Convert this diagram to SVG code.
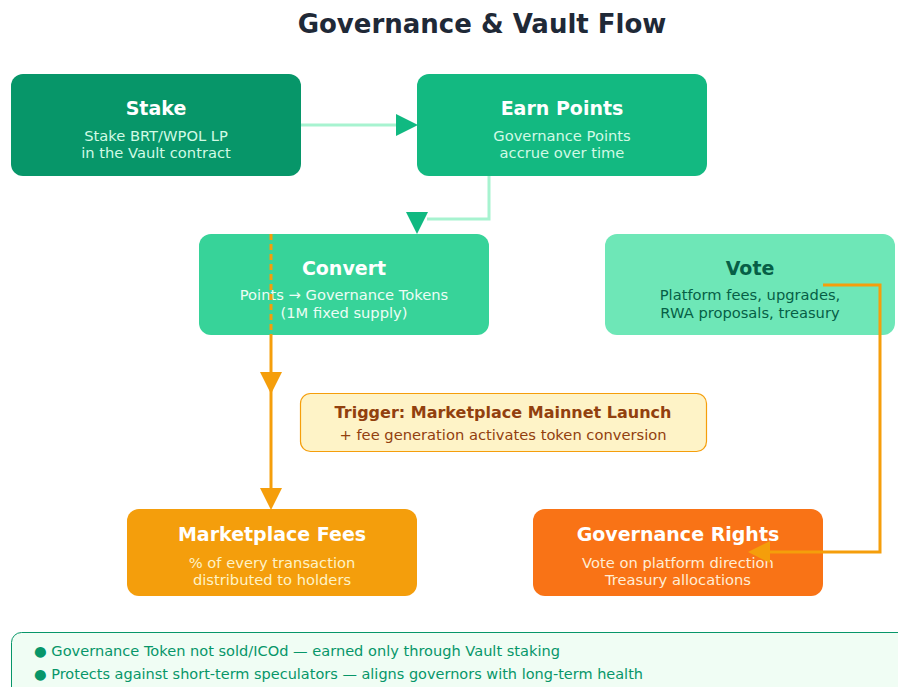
<svg xmlns="http://www.w3.org/2000/svg" width="898" height="687" viewBox="0 0 898 687">
<style>
text{font-family:"DejaVu Sans","Liberation Sans",sans-serif;text-anchor:middle}
.t{font-size:19px;font-weight:bold;fill:#ffffff}
.s{font-size:14.7px}
.g{stroke:#a7f3d0;stroke-width:3;fill:none}
.o{stroke:#f59e0b;stroke-width:3;fill:none}
</style>
<rect width="898" height="687" fill="#ffffff"/>
<text x="482" y="33" style="font-size:26px;font-weight:bold;fill:#1f2937">Governance &amp; Vault Flow</text>

<g id="stake">
  <rect x="11" y="74" width="290" height="102" rx="12" fill="#079669"/>
  <text class="t" x="156" y="115">Stake</text>
  <text class="s" x="156" y="141" fill="#d1fae5">Stake BRT/WPOL LP</text>
  <text class="s" x="156" y="158" fill="#d1fae5">in the Vault contract</text>
</g>
<g id="earn">
  <rect x="417" y="74" width="290" height="102" rx="12" fill="#13b981"/>
  <text class="t" x="562" y="115">Earn Points</text>
  <text class="s" x="562" y="141" fill="#d1fae5">Governance Points</text>
  <text class="s" x="562" y="158" fill="#d1fae5">accrue over time</text>
</g>
<g id="convert">
  <rect x="199" y="234" width="290" height="101" rx="12" fill="#37d399"/>
  <text class="t" x="344" y="275">Convert</text>
  <text class="s" x="344" y="300" fill="#ecfdf5">Points → Governance Tokens</text>
  <text class="s" x="344" y="318" fill="#ecfdf5">(1M fixed supply)</text>
</g>
<g id="vote">
  <rect x="605" y="234" width="290" height="101" rx="12" fill="#6ee7b7"/>
  <text class="t" x="750" y="275" style="fill:#065f46">Vote</text>
  <text class="s" x="750" y="300" fill="#065f46">Platform fees, upgrades,</text>
  <text class="s" x="750" y="318" fill="#065f46">RWA proposals, treasury</text>
</g>
<g id="trigger">
  <rect x="300.5" y="393.5" width="406" height="58" rx="10" fill="#fef3c7" stroke="#f59e0b" stroke-width="1.2"/>
  <text x="503" y="418" style="font-size:16px;font-weight:bold;fill:#92400e">Trigger: Marketplace Mainnet Launch</text>
  <text class="s" x="503" y="440" fill="#92400e">+ fee generation activates token conversion</text>
</g>
<g id="fees">
  <rect x="127" y="509" width="290" height="87" rx="12" fill="#f49e0c"/>
  <text class="t" x="272" y="541">Marketplace Fees</text>
  <text class="s" x="272" y="568" fill="#fef3c7">% of every transaction</text>
  <text class="s" x="272" y="585" fill="#fef3c7">distributed to holders</text>
</g>
<g id="rights">
  <rect x="533" y="509" width="290" height="87" rx="12" fill="#f97316"/>
  <text class="t" x="678" y="541">Governance Rights</text>
  <text class="s" x="678" y="568" fill="#ffedd5">Vote on platform direction</text>
  <text class="s" x="678" y="585" fill="#ffedd5">Treasury allocations</text>
</g>

<g id="connectors">
  <line class="g" x1="301" y1="125" x2="397" y2="125"/>
  <polygon points="396,114 418,125 396,136" fill="#10b981"/>
  <polyline class="g" points="489,176 489,219 427,219"/>
  <polygon points="406,212 428,212 417,234" fill="#10b981"/>
  <line class="o" x1="271" y1="234" x2="271" y2="335" stroke-dasharray="6,4"/>
  <line class="o" x1="271" y1="335" x2="271" y2="490"/>
  <polygon points="260,372 282,372 271,394" fill="#f59e0b"/>
  <polygon points="260,488 282,488 271,510" fill="#f59e0b"/>
  <polyline class="o" stroke-width="2.5" points="823,285 880,285 880,552 768,552"/>
  <polygon points="770,541 770,563 748,552" fill="#f59e0b"/>
</g>

<g id="notes">
  <rect x="11.5" y="632.5" width="900" height="70" rx="10" fill="#f0fdf4" stroke="#079669" stroke-width="1"/>
  <text x="34" y="656" style="font-size:14px;fill:#079669;text-anchor:start" textLength="526" lengthAdjust="spacingAndGlyphs">● Governance Token not sold/ICOd — earned only through Vault staking</text>
  <text x="34" y="679" style="font-size:14px;fill:#079669;text-anchor:start" textLength="609" lengthAdjust="spacingAndGlyphs">● Protects against short-term speculators — aligns governors with long-term health</text>
</g>
</svg>
